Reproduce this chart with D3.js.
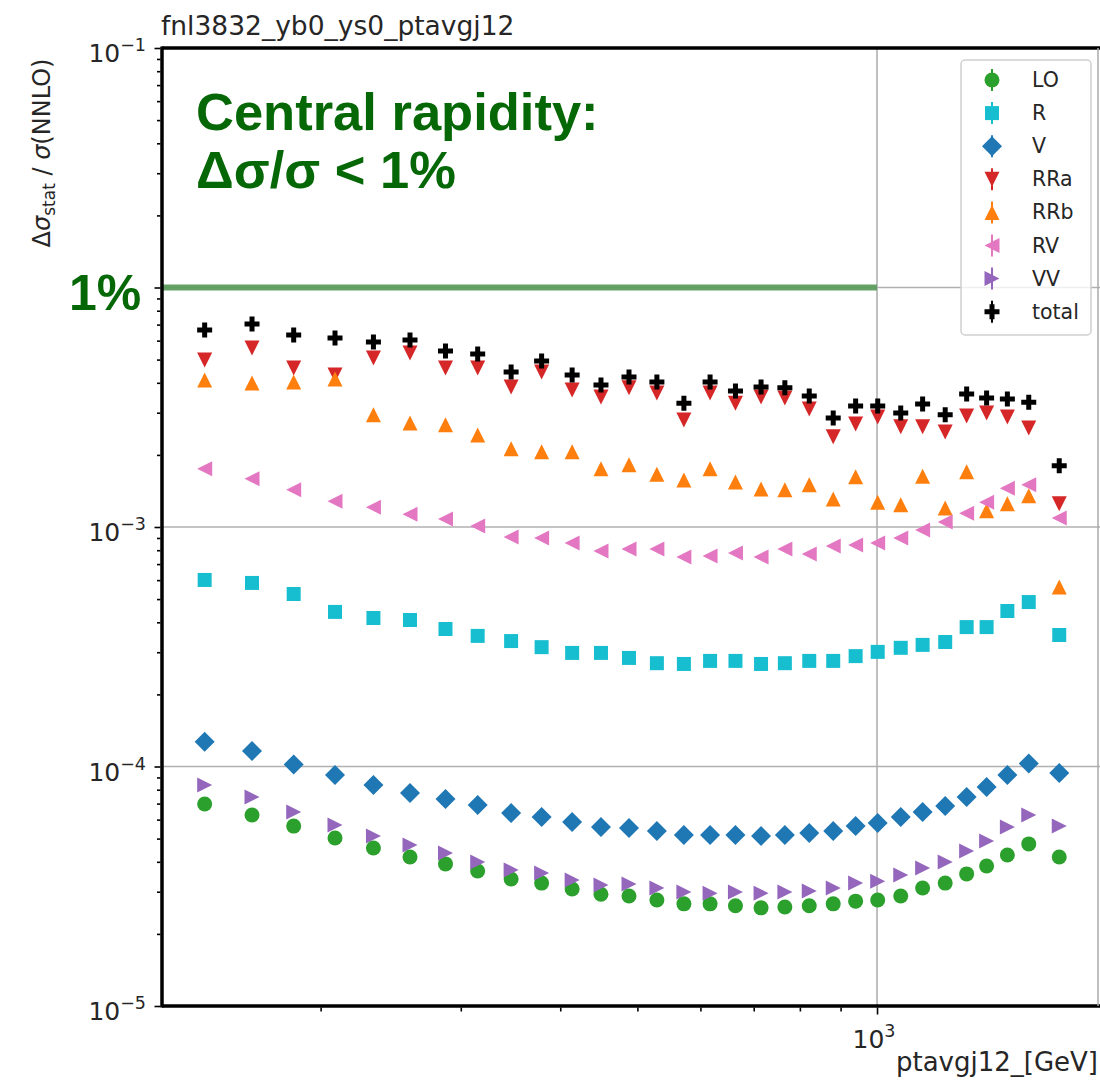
<!DOCTYPE html>
<html>
<head>
<meta charset="utf-8">
<script src="https://cdn.jsdelivr.net/npm/d3@7"></script>
<style>
  body { margin: 0; background: #fff; }
  svg text { font-family: 'DejaVu Sans', sans-serif; fill: #262626; }
  .note { font-family: 'Liberation Sans', Arial, sans-serif; font-weight: bold; fill: #056705 !important; }
</style>
</head>
<body>
<svg id="chart" width="1100" height="1090"></svg>
<script>
/* data: bin centres in GeV, relative stat. error per channel */
const ptavg = [143, 164, 185, 208.5, 233, 259, 287, 315, 347, 379, 414, 450, 488, 529, 572, 617,
               664, 715, 766, 822, 881, 940, 1002, 1071, 1141, 1218, 1296, 1373, 1458, 1551, 1694];

const LO = [6.97e-5, 6.27e-5, 5.64e-5, 5.03e-5, 4.57e-5, 4.19e-5, 3.92e-5, 3.66e-5, 3.39e-5, 3.26e-5,
            3.08e-5, 2.93e-5, 2.88e-5, 2.77e-5, 2.67e-5, 2.67e-5, 2.62e-5, 2.57e-5, 2.59e-5, 2.62e-5,
            2.67e-5, 2.74e-5, 2.77e-5, 2.88e-5, 3.11e-5, 3.26e-5, 3.56e-5, 3.84e-5, 4.27e-5, 4.75e-5, 4.19e-5];
const R = [6.01e-4, 5.84e-4, 5.25e-4, 4.42e-4, 4.17e-4, 4.09e-4, 3.75e-4, 3.51e-4, 3.34e-4, 3.15e-4,
           2.98e-4, 2.98e-4, 2.84e-4, 2.70e-4, 2.68e-4, 2.76e-4, 2.76e-4, 2.68e-4, 2.70e-4, 2.76e-4,
           2.76e-4, 2.89e-4, 3.01e-4, 3.13e-4, 3.22e-4, 3.31e-4, 3.82e-4, 3.82e-4, 4.46e-4, 4.86e-4, 3.54e-4];
const V = [1.27e-4, 1.16e-4, 1.02e-4, 9.21e-5, 8.38e-5, 7.75e-5, 7.31e-5, 6.90e-5, 6.39e-5, 6.15e-5,
           5.86e-5, 5.59e-5, 5.54e-5, 5.38e-5, 5.18e-5, 5.18e-5, 5.18e-5, 5.13e-5, 5.18e-5, 5.28e-5,
           5.38e-5, 5.64e-5, 5.81e-5, 6.15e-5, 6.45e-5, 6.84e-5, 7.46e-5, 8.21e-5, 9.21e-5, 1.03e-4, 9.39e-5];
const RRa = [4.98e-3, 5.59e-3, 4.61e-3, 4.31e-3, 5.08e-3, 5.33e-3, 4.61e-3, 4.61e-3, 3.84e-3, 4.44e-3,
             3.73e-3, 3.49e-3, 3.81e-3, 3.63e-3, 2.80e-3, 3.63e-3, 3.29e-3, 3.49e-3, 3.46e-3, 3.11e-3,
             2.38e-3, 2.69e-3, 2.88e-3, 2.62e-3, 2.62e-3, 2.49e-3, 2.91e-3, 2.99e-3, 2.88e-3, 2.59e-3, 1.25e-3];
const RRb = [4.11e-3, 3.99e-3, 4.03e-3, 4.15e-3, 2.94e-3, 2.72e-3, 2.67e-3, 2.42e-3, 2.12e-3, 2.06e-3,
             2.06e-3, 1.75e-3, 1.82e-3, 1.66e-3, 1.57e-3, 1.75e-3, 1.54e-3, 1.44e-3, 1.43e-3, 1.50e-3,
             1.31e-3, 1.62e-3, 1.27e-3, 1.24e-3, 1.63e-3, 1.20e-3, 1.70e-3, 1.17e-3, 1.25e-3, 1.35e-3, 5.62e-4];
const RV = [1.75e-3, 1.59e-3, 1.43e-3, 1.28e-3, 1.21e-3, 1.13e-3, 1.08e-3, 1.01e-3, 9.08e-4, 9.00e-4,
            8.58e-4, 7.94e-4, 8.09e-4, 8.09e-4, 7.49e-4, 7.56e-4, 7.78e-4, 7.49e-4, 8.09e-4, 7.71e-4,
            8.33e-4, 8.41e-4, 8.58e-4, 9.00e-4, 9.72e-4, 1.05e-3, 1.14e-3, 1.27e-3, 1.45e-3, 1.50e-3, 1.09e-3];
const VV = [8.38e-5, 7.46e-5, 6.45e-5, 5.70e-5, 5.13e-5, 4.70e-5, 4.35e-5, 3.99e-5, 3.70e-5, 3.59e-5,
            3.36e-5, 3.20e-5, 3.23e-5, 3.11e-5, 2.99e-5, 2.96e-5, 2.99e-5, 2.96e-5, 2.99e-5, 3.02e-5,
            3.11e-5, 3.26e-5, 3.32e-5, 3.52e-5, 3.77e-5, 3.99e-5, 4.44e-5, 4.89e-5, 5.59e-5, 6.27e-5, 5.64e-5];
const total = [6.65e-3, 7.04e-3, 6.33e-3, 6.15e-3, 5.92e-3, 6.04e-3, 5.43e-3, 5.28e-3, 4.44e-3, 4.93e-3,
               4.31e-3, 3.92e-3, 4.23e-3, 4.03e-3, 3.29e-3, 4.03e-3, 3.70e-3, 3.84e-3, 3.81e-3, 3.52e-3,
               2.85e-3, 3.20e-3, 3.20e-3, 2.99e-3, 3.26e-3, 2.94e-3, 3.59e-3, 3.46e-3, 3.42e-3, 3.32e-3, 1.80e-3];

const seriesNames = ['LO', 'R', 'V', 'RRa', 'RRb', 'RV', 'VV', 'total'];
const seriesValues = [LO, R, V, RRa, RRb, RV, VV, total];
const seriesColors = ['#2ca02c', '#17becf', '#1f77b4', '#d62728', '#ff7f0e', '#e377c2', '#9467bd', '#000000'];
const seriesShapes = ['circle', 'square', 'diamond', 'tri-down', 'tri-up', 'tri-left', 'tri-right', 'plus'];

const xLimits = [126.4, 1906];
const yLimits = [1e-5, 1e-1];
const yMajor = [1e-1, 1e-2, 1e-3, 1e-4, 1e-5];
const yLabelled = [1e-1, 1e-3, 1e-4, 1e-5];   // 1e-2 label is covered by the "1%" note
const xMajor = [1000];
const onePercent = 0.01;
const onePercentEnd = 1000;

const titleText = 'fnl3832_yb0_ys0_ptavgj12';
const xLabelText = 'ptavgj12_[GeV]';

const svg = d3.select('#chart');
const L = 162, Rt = 1100, T = 48, B = 1006;

let x = d3.scaleLog().domain(xLimits).range([L, Rt]);
let y = d3.scaleLog().domain(yLimits).range([B, T]);

// minor ticks 2..9 per decade
let yMinor = [];
for (let k = -5; k < -1; k++) for (let m = 2; m <= 9; m++) yMinor.push(m * Math.pow(10, k));
let xMinor = [];
for (let m = 2; m <= 9; m++) xMinor.push(m * 100);

// grid
svg.append('g').selectAll('line').data(yMajor.slice(1, -1)).join('line')
    .attr('x1', L).attr('x2', Rt).attr('y1', d => y(d)).attr('y2', d => y(d))
    .attr('stroke', '#b0b0b0').attr('stroke-width', 1.6);
svg.append('g').selectAll('line').data(xMajor).join('line')
    .attr('x1', d => x(d)).attr('x2', d => x(d)).attr('y1', T).attr('y2', B)
    .attr('stroke', '#b0b0b0').attr('stroke-width', 1.6);

// 1% line
svg.append('line')
    .attr('x1', x(xLimits[0])).attr('x2', x(onePercentEnd))
    .attr('y1', y(onePercent)).attr('y2', y(onePercent))
    .attr('stroke', '#5e9e5e').attr('stroke-width', 6).attr('opacity', 0.95);

// marker shapes (matplotlib-like)
const triangle = {
    draw(ctx, size) {
        let h = Math.sqrt(size) / 2;
        ctx.moveTo(0, -h); ctx.lineTo(-h, h); ctx.lineTo(h, h); ctx.closePath();
    }
};
const shapeInfo = {
    'circle':    { type: d3.symbolCircle, size: 177, rot: 0 },
    'square':    { type: d3.symbolSquare, size: 196, rot: 0 },
    'diamond':   { type: d3.symbolSquare, size: 200, rot: 45 },
    'tri-down':  { type: triangle, size: 225, rot: 180 },
    'tri-up':    { type: triangle, size: 225, rot: 0 },
    'tri-left':  { type: triangle, size: 225, rot: -90 },
    'tri-right': { type: triangle, size: 225, rot: 90 },
    'plus':      { type: d3.symbolCross, size: 125, rot: 0 }
};
let symbolPath = (shape) => d3.symbol().type(shapeInfo[shape].type).size(shapeInfo[shape].size)();

// points
seriesNames.forEach((name, i) => {
    let shape = seriesShapes[i];
    svg.append('g').attr('class', 'series-' + name)
        .selectAll('path').data(seriesValues[i]).join('path')
        .attr('d', symbolPath(shape))
        .attr('fill', seriesColors[i])
        .attr('transform', (d, j) => 'translate(' + x(ptavg[j]) + ',' + y(d) + ') rotate(' + shapeInfo[shape].rot + ')');
});

// axes ticks
let yAxisMajor = d3.axisLeft(y).tickValues(yMajor).tickSize(6).tickFormat('');
let yAxisMinor = d3.axisLeft(y).tickValues(yMinor).tickSize(3.5).tickFormat('');
let xAxisMajor = d3.axisBottom(x).tickValues(xMajor).tickSize(7).tickFormat('');
let xAxisMinor = d3.axisBottom(x).tickValues(xMinor).tickSize(4).tickFormat('');
[[yAxisMajor, 'translate(' + (L - 1.5) + ',0)'], [yAxisMinor, 'translate(' + (L - 1.5) + ',0)'],
 [xAxisMajor, 'translate(0,' + (B + 1.5) + ')'], [xAxisMinor, 'translate(0,' + (B + 1.5) + ')']]
    .forEach(([ax, tr]) => {
        let g = svg.append('g').attr('transform', tr).call(ax);
        g.select('.domain').remove();
        g.selectAll('line').attr('stroke', '#000').attr('stroke-width', 1.6);
    });

// spines
svg.append('line').attr('x1', L).attr('x2', L).attr('y1', T - 1.5).attr('y2', B + 1.5).attr('stroke', '#000').attr('stroke-width', 3.5);
svg.append('line').attr('x1', L).attr('x2', Rt).attr('y1', T).attr('y2', T).attr('stroke', '#000').attr('stroke-width', 3.5);
svg.append('line').attr('x1', L).attr('x2', Rt).attr('y1', B).attr('y2', B).attr('stroke', '#000').attr('stroke-width', 3.5);
svg.append('line').attr('x1', Rt - 2).attr('x2', Rt - 2).attr('y1', T).attr('y2', B).attr('stroke', '#aaa').attr('stroke-width', 1.5);

// tick labels with superscript exponents
let expo = (v) => String(Math.round(Math.log10(v))).replace('-', '\u2212');
svg.append('g').selectAll('text').data(yLabelled).join('text')
    .attr('x', 146).attr('y', d => y(d) + 14).attr('text-anchor', 'end').style('font-size', '25px')
    .each(function(d) {
        let t = d3.select(this);
        t.append('tspan').text('10');
        t.append('tspan').attr('dy', -11).style('font-size', '17.5px').text(expo(d));
    });
svg.append('g').selectAll('text').data(xMajor).join('text')
    .attr('x', d => x(d) - 3).attr('y', 1048).attr('text-anchor', 'middle').style('font-size', '25px')
    .each(function(d) {
        let t = d3.select(this);
        t.append('tspan').text('10');
        t.append('tspan').attr('dy', -11).style('font-size', '17.5px').text(expo(d));
    });

// title & axis labels
svg.append('text').attr('x', L - 1).attr('y', 35).style('font-size', '26.5px').text(titleText);
svg.append('text').attr('x', Rt - 2).attr('y', 1071).attr('text-anchor', 'end').style('font-size', '26px').text(xLabelText);

let ylab = svg.append('text').attr('transform', 'translate(50,153) rotate(-90)')
    .attr('text-anchor', 'middle').style('font-size', '24px');
ylab.append('tspan').text('\u0394');
ylab.append('tspan').style('font-style', 'italic').text('\u03c3');
ylab.append('tspan').attr('dy', 5).style('font-size', '17px').text('stat');
ylab.append('tspan').attr('dy', -5).text(' / ');
ylab.append('tspan').style('font-style', 'italic').text('\u03c3');
ylab.append('tspan').text('(NNLO)');

// green annotations
svg.append('text').attr('class', 'note').attr('x', 196).attr('y', 130).style('font-size', '52.5px').text('Central rapidity:');
svg.append('text').attr('class', 'note').attr('x', 196).attr('y', 188).style('font-size', '52.5px').text('\u0394\u03c3/\u03c3 < 1%');
svg.append('text').attr('class', 'note').attr('x', 69).attr('y', 310).style('font-size', '50px').text('1%');

// legend
let legend = svg.append('g').attr('transform', 'translate(961,60)');
legend.append('rect').attr('width', 130).attr('height', 275).attr('rx', 4)
    .attr('fill', '#fff').attr('fill-opacity', 0.8).attr('stroke', '#d0d0d0').attr('stroke-width', 1.5);
seriesNames.forEach((name, i) => {
    let row = legend.append('g').attr('transform', 'translate(31,' + (20 + i * 33.1) + ')');
    row.append('line').attr('y1', -11).attr('y2', 11).attr('stroke', seriesColors[i]).attr('stroke-width', 2);
    row.append('path').attr('d', symbolPath(seriesShapes[i])).attr('fill', seriesColors[i])
        .attr('transform', 'rotate(' + shapeInfo[seriesShapes[i]].rot + ')');
    row.append('text').attr('x', 40).attr('y', 7).style('font-size', '20.5px').text(name);
});
</script>
</body>
</html>
